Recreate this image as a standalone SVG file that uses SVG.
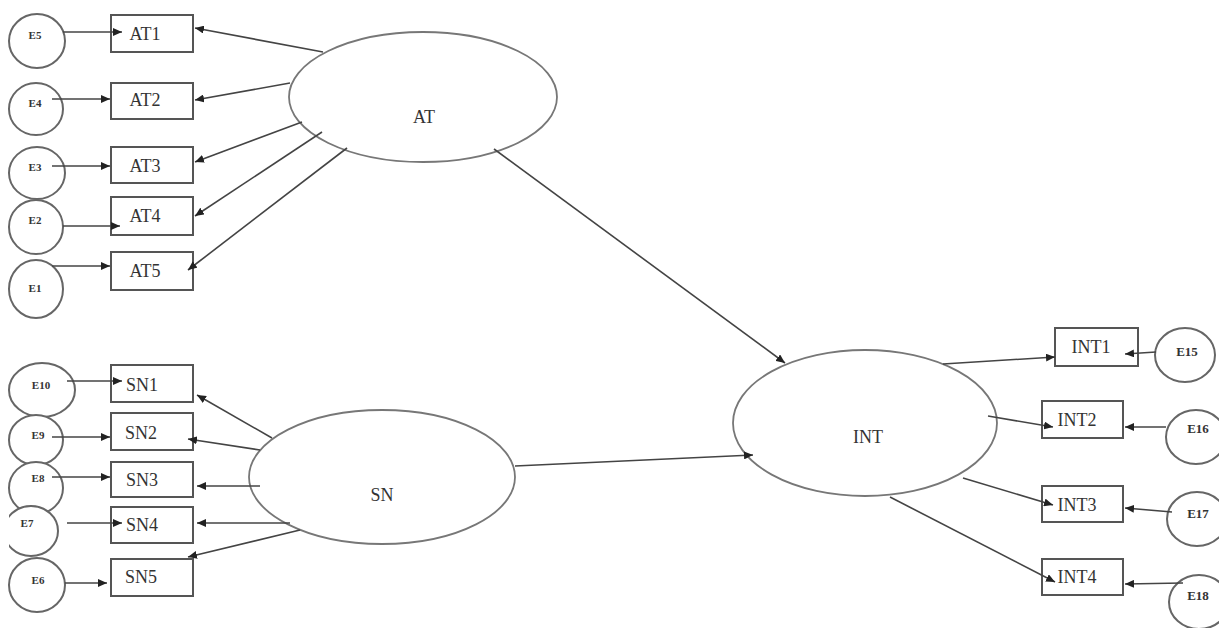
<svg xmlns="http://www.w3.org/2000/svg" width="1219" height="628" viewBox="0 0 1219 628">
<defs>
<marker id="ah" markerWidth="9" markerHeight="8" refX="9" refY="4" orient="auto" markerUnits="userSpaceOnUse"><path d="M0,0 L9,4 L0,8 z" fill="#222"/></marker>
<clipPath id="clipE7"><rect x="9" y="490" width="80" height="80"/></clipPath>
</defs>
<style>
.err ellipse{fill:#fff;stroke:#666;stroke-width:2}
.lat ellipse{fill:#fff;stroke:#777;stroke-width:1.8}
.box rect{fill:#fff;stroke:#555;stroke-width:2}
text{font-family:"Liberation Serif","DejaVu Serif",serif;fill:#333;text-anchor:middle}
.lbl{font-size:18px}
.el{font-size:11px;font-weight:bold}
.er{font-size:13px;font-weight:bold}
#connectors line{stroke:#444;stroke-width:1.6;marker-end:url(#ah)}
</style>
<rect width="1219" height="628" fill="#fff"/>

<g id="AT" class="lat"><ellipse cx="423" cy="97" rx="134" ry="65"/><text class="lbl" x="424" y="123">AT</text></g>
<g id="SN" class="lat"><ellipse cx="382" cy="477" rx="133" ry="67"/><text class="lbl" x="382" y="501">SN</text></g>
<g id="INT" class="lat"><ellipse cx="865" cy="423" rx="132" ry="73"/><text class="lbl" x="868" y="443">INT</text></g>

<g id="AT1" class="box"><rect x="111" y="15" width="82" height="37"/><text class="lbl" x="145" y="40">AT1</text></g>
<g id="AT2" class="box"><rect x="111" y="83" width="82" height="36"/><text class="lbl" x="145" y="106">AT2</text></g>
<g id="AT3" class="box"><rect x="111" y="147" width="82" height="36"/><text class="lbl" x="145" y="172">AT3</text></g>
<g id="AT4" class="box"><rect x="111" y="197" width="82" height="38"/><text class="lbl" x="145" y="222">AT4</text></g>
<g id="AT5" class="box"><rect x="111" y="252" width="82" height="38"/><text class="lbl" x="145" y="277">AT5</text></g>

<g id="SN1" class="box"><rect x="111" y="365" width="82" height="37"/><text class="lbl" x="142" y="391">SN1</text></g>
<g id="SN2" class="box"><rect x="111" y="413" width="82" height="37"/><text class="lbl" x="141" y="439">SN2</text></g>
<g id="SN3" class="box"><rect x="111" y="462" width="82" height="35"/><text class="lbl" x="142" y="486">SN3</text></g>
<g id="SN4" class="box"><rect x="111" y="507" width="82" height="36"/><text class="lbl" x="142" y="531">SN4</text></g>
<g id="SN5" class="box"><rect x="111" y="559" width="82" height="37"/><text class="lbl" x="141" y="583">SN5</text></g>

<g id="INT1" class="box"><rect x="1055" y="328" width="83" height="38"/><text class="lbl" x="1091" y="353">INT1</text></g>
<g id="INT2" class="box"><rect x="1042" y="401" width="81" height="37"/><text class="lbl" x="1077" y="426">INT2</text></g>
<g id="INT3" class="box"><rect x="1042" y="486" width="81" height="36"/><text class="lbl" x="1077" y="511">INT3</text></g>
<g id="INT4" class="box"><rect x="1042" y="559" width="81" height="36"/><text class="lbl" x="1077" y="583">INT4</text></g>

<g id="E5" class="err"><ellipse cx="37" cy="41" rx="28" ry="27"/><text class="el" x="35" y="39">E5</text></g>
<g id="E4" class="err"><ellipse cx="36" cy="109" rx="27" ry="26"/><text class="el" x="35" y="107">E4</text></g>
<g id="E3" class="err"><ellipse cx="37" cy="173" rx="28" ry="26"/><text class="el" x="35" y="171">E3</text></g>
<g id="E2" class="err"><ellipse cx="36" cy="227" rx="27" ry="27"/><text class="el" x="35" y="224">E2</text></g>
<g id="E1" class="err"><ellipse cx="36" cy="289" rx="27" ry="29"/><text class="el" x="35" y="292">E1</text></g>

<g id="E10" class="err"><ellipse cx="42" cy="390" rx="33" ry="27"/><text class="el" x="41" y="389">E10</text></g>
<g id="E9" class="err"><ellipse cx="36" cy="440" rx="27" ry="25"/><text class="el" x="38" y="439">E9</text></g>
<g id="E8" class="err"><ellipse cx="36" cy="488" rx="27" ry="26"/><text class="el" x="38" y="482">E8</text></g>
<g id="E7" class="err"><ellipse cx="31" cy="531" rx="27" ry="25" clip-path="url(#clipE7)"/><text class="el" x="27" y="527">E7</text></g>
<g id="E6" class="err"><ellipse cx="37" cy="585" rx="28" ry="27"/><text class="el" x="38" y="584">E6</text></g>

<g id="E15" class="err"><ellipse cx="1185" cy="355" rx="30" ry="27"/><text class="er" x="1187" y="356">E15</text></g>
<g id="E16" class="err"><ellipse cx="1196" cy="437" rx="30" ry="27"/><text class="er" x="1198" y="433">E16</text></g>
<g id="E17" class="err"><ellipse cx="1197" cy="519" rx="30" ry="27"/><text class="er" x="1198" y="518">E17</text></g>
<g id="E18" class="err"><ellipse cx="1199" cy="602" rx="30" ry="27"/><text class="er" x="1198" y="600">E18</text></g>

<g id="connectors">
<line x1="63" y1="32" x2="122" y2="32"/>
<line x1="52" y1="99" x2="110" y2="99"/>
<line x1="52" y1="166" x2="110" y2="166"/>
<line x1="63" y1="226" x2="120" y2="226"/>
<line x1="52" y1="266" x2="110" y2="266"/>
<line x1="67" y1="381" x2="122" y2="381"/>
<line x1="52" y1="437" x2="110" y2="437"/>
<line x1="52" y1="477" x2="110" y2="477"/>
<line x1="67" y1="523" x2="122" y2="523"/>
<line x1="65" y1="583" x2="107" y2="583"/>

<line x1="323" y1="52" x2="195" y2="28"/>
<line x1="290" y1="83" x2="195" y2="100"/>
<line x1="302" y1="122" x2="195" y2="162"/>
<line x1="322" y1="132" x2="195" y2="216"/>
<line x1="347" y1="148" x2="188" y2="270"/>

<line x1="272" y1="438" x2="197" y2="395"/>
<line x1="260" y1="450" x2="188" y2="439"/>
<line x1="260" y1="486" x2="197" y2="486"/>
<line x1="290" y1="523" x2="197" y2="523"/>
<line x1="300" y1="530" x2="188" y2="557"/>

<line x1="494" y1="149" x2="785" y2="363"/>
<line x1="515" y1="466" x2="753" y2="455"/>

<line x1="943" y1="364" x2="1055" y2="357"/>
<line x1="988" y1="416" x2="1053" y2="427"/>
<line x1="963" y1="478" x2="1053" y2="505"/>
<line x1="890" y1="497" x2="1055" y2="582"/>

<line x1="1156" y1="352" x2="1125" y2="354"/>
<line x1="1166" y1="427" x2="1125" y2="427"/>
<line x1="1172" y1="512" x2="1125" y2="508"/>
<line x1="1183" y1="583" x2="1125" y2="584"/>
</g>
</svg>
